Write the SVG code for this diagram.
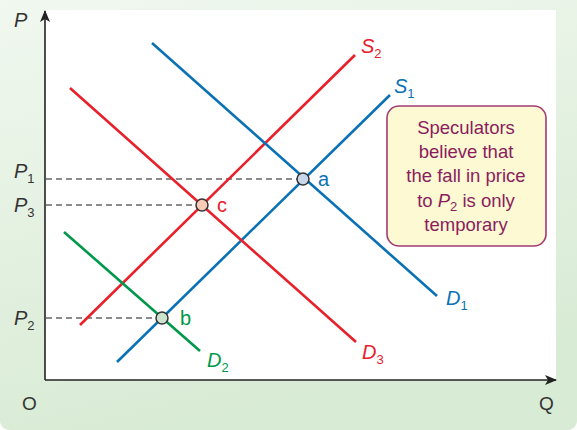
<svg xmlns="http://www.w3.org/2000/svg" width="577" height="430" viewBox="0 0 577 430">
<defs>
<linearGradient id="bg" x1="0" y1="0" x2="0.3" y2="1">
<stop offset="0" stop-color="#f1f8f0"/>
<stop offset="1" stop-color="#d8ebd4"/>
</linearGradient>
<marker id="arr" viewBox="0 0 12 10" refX="11" refY="5" markerWidth="12" markerHeight="10" markerUnits="userSpaceOnUse" orient="auto">
<path d="M0,0 L12,5 L0,10 L3,5 Z" fill="#222"/>
</marker>
<style>
.ax{stroke:#222;stroke-width:1.6;fill:none}
.dash{stroke:#666;stroke-width:1.3;stroke-dasharray:6,4;fill:none}
.cv{stroke-width:2.6;fill:none}
.red{stroke:#e8202a}.blue{stroke:#0a72b4}.green{stroke:#00984a}
.t{font-family:"Liberation Sans",Arial,sans-serif}
.lab{font-size:20px;font-style:italic}
.pl{font-size:20px;font-style:italic;fill:#333}
.sub{font-size:13px;font-style:normal}
.pt{stroke:#333;stroke-width:1.5}
.box{font-size:18.5px;fill:#8a1d5f;text-anchor:middle}
</style>
</defs>
<rect x="0" y="-10" width="577" height="440" rx="9" fill="url(#bg)"/>
<rect x="45" y="10" width="511" height="370" fill="#ffffff"/>
<g id="axes">
<line class="ax" x1="45" y1="380" x2="45" y2="11" marker-end="url(#arr)"/>
<line class="ax" x1="45" y1="380" x2="556" y2="380" marker-end="url(#arr)"/>
<text class="t pl" x="14" y="27">P</text>
<text class="t" x="22" y="410" font-size="19" fill="#333">O</text>
<text class="t" x="539" y="410" font-size="19" fill="#333">Q</text>
</g>
<g id="connectors">
<line class="dash" x1="46" y1="179" x2="303" y2="179"/>
<line class="dash" x1="46" y1="205" x2="202" y2="205"/>
<line class="dash" x1="46" y1="318" x2="162" y2="318"/>
<line class="cv red" x1="80" y1="325" x2="355" y2="55"/>
<line class="cv blue" x1="117" y1="362" x2="390" y2="95"/>
<line class="cv blue" x1="152" y1="43" x2="437" y2="296"/>
<line class="cv red" x1="70" y1="88" x2="356" y2="342"/>
<line class="cv green" x1="64" y1="232" x2="200" y2="351"/>
</g>
<g id="labels">
<text class="t pl" x="14" y="178">P<tspan class="sub" dy="5">1</tspan></text>
<text class="t pl" x="14" y="212">P<tspan class="sub" dy="5">3</tspan></text>
<text class="t pl" x="14" y="325">P<tspan class="sub" dy="5">2</tspan></text>
<text class="t lab" x="361" y="53" fill="#e8202a">S<tspan class="sub" dy="5">2</tspan></text>
<text class="t lab" x="394" y="93" fill="#0a72b4">S<tspan class="sub" dy="5">1</tspan></text>
<text class="t lab" x="446" y="305" fill="#0a72b4">D<tspan class="sub" dy="5">1</tspan></text>
<text class="t lab" x="362" y="359" fill="#e8202a">D<tspan class="sub" dy="5">3</tspan></text>
<text class="t lab" x="207" y="367" fill="#00984a">D<tspan class="sub" dy="5">2</tspan></text>
</g>
<g id="point-a">
<circle class="pt" cx="303" cy="179" r="6" fill="#c8d7ea"/>
<text class="t" x="318" y="186" font-size="20" fill="#0a72b4">a</text>
</g>
<g id="point-c">
<circle class="pt" cx="202" cy="205" r="6" fill="#f8cbb6"/>
<text class="t" x="217" y="212" font-size="20" fill="#e8202a">c</text>
</g>
<g id="point-b">
<circle class="pt" cx="162" cy="318" r="6" fill="#cde3cd"/>
<text class="t" x="180" y="325" font-size="20" fill="#00984a">b</text>
</g>
<g id="note">
<rect x="387" y="106" width="159" height="140" rx="12" fill="#fdf9d2" stroke="#a33a73" stroke-width="1.6"/>
<text class="t box" x="466" y="134">Speculators</text>
<text class="t box" x="466" y="158">believe that</text>
<text class="t box" x="466" y="182">the fall in price</text>
<text class="t box" x="466" y="207">to <tspan font-style="italic">P</tspan><tspan font-size="13" dy="4">2</tspan><tspan dy="-4"> is only</tspan></text>
<text class="t box" x="466" y="231">temporary</text>
</g>
</svg>
